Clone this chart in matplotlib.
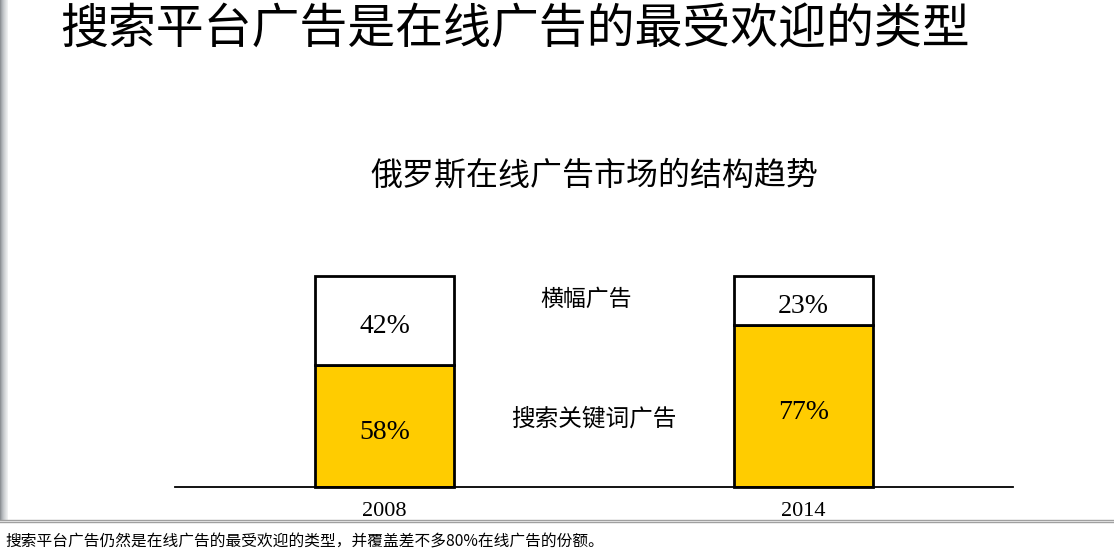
import matplotlib
matplotlib.use('Agg')
import matplotlib.pyplot as plt
from matplotlib.patches import Rectangle
from matplotlib.lines import Line2D

plt.rcParams['font.family'] = ['Noto Sans CJK SC', 'DejaVu Sans']

# data
years = ['2008', '2014']
search_share = [58, 77]      # 搜索关键词广告
banner_share = [42, 23]      # 横幅广告
series_names = ['搜索关键词广告', '横幅广告']

title = '搜索平台广告是在线广告的最受欢迎的类型'
chart_title = '俄罗斯在线广告市场的结构趋势'
footnote = '搜索平台广告仍然是在线广告的最受欢迎的类型，并覆盖差不多80%在线广告的份额。'

W, H = 1114, 557
fig = plt.figure(figsize=(W / 100, H / 100), dpi=100)

# slide frame: gray strip on the left and footnote separator
for i, g in enumerate(['#8e9296', '#a3a7ab', '#b4b8bc', '#c3c6c9', '#cfd2d4', '#dadcde', '#e4e6e7', '#eeeff0']):
    fig.patches.append(Rectangle((i / W, 37 / H), 1 / W, 1 - 37 / H,
                                 transform=fig.transFigure, color=g, lw=0))
for y in (37, 35):
    fig.add_artist(Line2D([0, 1], [y / H, y / H], transform=fig.transFigure,
                          color='#a0a0a0', lw=1))
fig.text(5 / W, 15 / H, footnote, fontsize=11.3, va='center', ha='left')

fig.text(60 / W, 1 - 30 / H, title, fontsize=34.5, va='center', ha='left')

# chart area
ax = fig.add_axes([175 / W, (H - 487) / H, (1013 - 175) / W, (487 - 276) / H])
x = list(range(len(years)))
bw = 140 / 420
ax.bar(x, search_share, width=bw, color='#ffcc00', edgecolor='black', lw=2, clip_on=False)
ax.bar(x, banner_share, width=bw, bottom=search_share, color='white',
       edgecolor='black', lw=2, clip_on=False)

for xi, s, b in zip(x, search_share, banner_share):
    ax.text(xi, s / 2 - 3, f'{s}%', ha='center', va='center',
            fontsize=20, family='Liberation Serif')
    ax.text(xi, s + b / 2 - 3, f'{b}%', ha='center', va='center',
            fontsize=20, family='Liberation Serif')

ax.text(0.48, 89, series_names[1], ha='center', va='center', fontsize=16.5)
ax.text(0.5, 32, series_names[0], ha='center', va='center', fontsize=17)

ax.set_xlim(-0.5, 1.5)
ax.set_ylim(0, 100)
ax.set_xticks(x)
ax.set_xticklabels(years, family='Liberation Serif', fontsize=16)
ax.tick_params(axis='x', length=0, pad=11)
ax.set_yticks([])
for side in ('top', 'right', 'left'):
    ax.spines[side].set_visible(False)
ax.spines['bottom'].set_linewidth(1.3)
ax.patch.set_alpha(0)

ax.set_title(chart_title, fontsize=23, pad=66, fontweight='light')

fig.savefig('out.png', dpi=100)
